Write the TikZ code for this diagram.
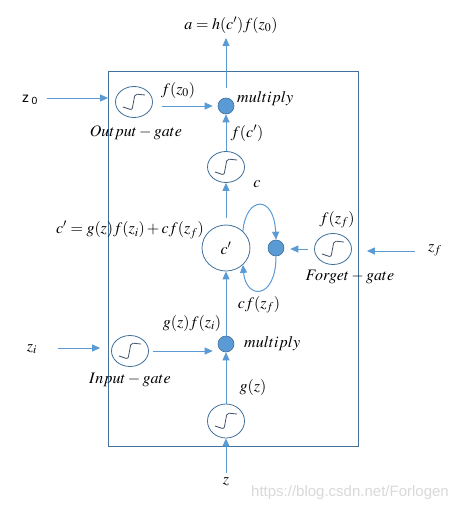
\documentclass[tikz,border=0pt]{standalone}
\usepackage{mathptmx}
\usepackage{fontspec}
\setmainfont{Liberation Serif}
\setsansfont{Liberation Sans}
\usetikzlibrary{shapes.geometric,arrows.meta}
\definecolor{arrc}{HTML}{5B9BD5}
\definecolor{boxc}{HTML}{41719C}
\definecolor{sigc}{HTML}{44546A}
\begin{document}
\begin{tikzpicture}[x=1pt,y=-1pt,
  arr/.style={draw=arrc, line width=1pt, -{Triangle[length=8pt,width=7pt]}},
  sig/.style={ellipse, draw=boxc, line width=0.8pt, minimum width=37pt, minimum height=31pt, inner sep=0pt,
    path picture={\draw[sigc, line width=0.8pt, rounded corners=2pt]
      ([shift={(-11pt,-5pt)}]path picture bounding box.center) -- ++(9pt,-3pt) -- ++(3pt,16pt) -- ++(10pt,-1pt);}},
  dotn/.style={circle, fill=arrc, draw=boxc, line width=0.6pt, minimum size=16pt, inner sep=0pt},
  lab/.style={font=\fontsize{16}{18}\selectfont, inner sep=0pt},
  frame/.style={draw=boxc, line width=0.8pt, minimum width=250pt, minimum height=375pt, inner sep=0pt}
]
\fill[white] (0,0) rectangle (464,511);
\useasboundingbox (0,0) rectangle (464,511);

% frame
\node[frame] (box) at (233,258.5) {};

% units
\node[sig] (og) at (134,102) {};
\node[dotn] (mo) at (226,106) {};
\node[sig] (hs) at (226,167) {};
\node[ellipse, draw=boxc, line width=0.8pt, minimum width=48pt, minimum height=46pt, inner sep=0pt, font=\fontsize{16}{18}\selectfont] (cp) at (226,248) {$c'$};
\node[dotn] (df) at (276,248) {};
\node[sig] (fg) at (333,249) {};
\node[sig] (ig) at (130,351) {};
\node[dotn] (mi) at (226,344) {};
\node[sig, minimum height=34pt] (gs) at (226,421) {};

% free ends
\coordinate (z0s) at (47,98);
\coordinate (aend) at (226,38);
\coordinate (zfs) at (415,251);
\coordinate (zis) at (58,348);
\coordinate (zs) at (226,473);

% connectors
\draw[arr, shorten >=7pt] (z0s) -- (og.west |- z0s);
\draw[arr, shorten <=9pt, shorten >=5pt] (og.east |- mo.west) -- (mo.west);
\draw[arr, shorten <=10pt] (mo.north) -- (aend);
\draw[arr] (hs.north) -- (mo.south);
\draw[arr, shorten <=7pt] (cp.north) -- (hs.south);
\draw[arr] (mi.north) -- (cp.south);
\draw[arr] (gs.north) -- (mi.south);
\draw[arr] (zs) -- (gs.south);
\draw[arr, shorten <=4pt, shorten >=5pt] (ig.east) -- (ig.east -| mi.west);
\draw[arr, shorten >=11pt] (zis) -- (ig.west |- zis);
\draw[arr, shorten >=15pt] (zfs) -- (fg.east |- zfs);
\draw[arr, shorten <=6pt, shorten >=6pt] (fg.west) -- (fg.west -| df.east);
\draw[arr] (cp.45) .. controls (246,196) and (274,194) .. (df.north);
\draw[arr] (df.south) .. controls (276,300) and (246,300) .. (cp.-45);

% labels
\node[lab] (la) at (231,25) {$a=h(c')f(z_0)$};
\node[font=\sffamily\fontsize{14}{16}\selectfont, inner sep=0pt] (lz0) at (30,100) {z\,\textsubscript{0}};
\node[lab] (lfz0) at (178,90) {$f(z_0)$};
\node[lab, anchor=west] (lmo) at (237,99) {$multiply$};
\node[lab] (lout) at (136,133) {$Output-gate$};
\node[lab] (lfc) at (247,133) {$f(c')$};
\node[lab] (lc) at (257,184) {$c$};
\node[lab] (lcp) at (130,230) {$c'=g(z)f(z_i)+cf(z_f)$};
\node[lab] (lfzf) at (337,220) {$f(z_f)$};
\node[lab] (lforget) at (350,277) {$Forget-gate$};
\node[lab] (lzf) at (435,250) {$z_f$};
\node[lab] (lcfz) at (259,305) {$cf(z_f)$};
\node[lab] (lgf) at (192,323) {$g(z)f(z_i)$};
\node[lab, anchor=west] (lmi) at (244,344) {$multiply$};
\node[lab] (lzi) at (32,349) {$z_i$};
\node[lab] (lin) at (130,380) {$Input-gate$};
\node[lab] (lg) at (253,387) {$g(z)$};
\node[lab] (lz) at (226,482) {$z$};
\node[font=\sffamily\fontsize{15}{17}\selectfont, text=gray!30, inner sep=0pt] (wm) at (350,493) {https://blog.csdn.net/Forlogen};
\end{tikzpicture}
\end{document}
